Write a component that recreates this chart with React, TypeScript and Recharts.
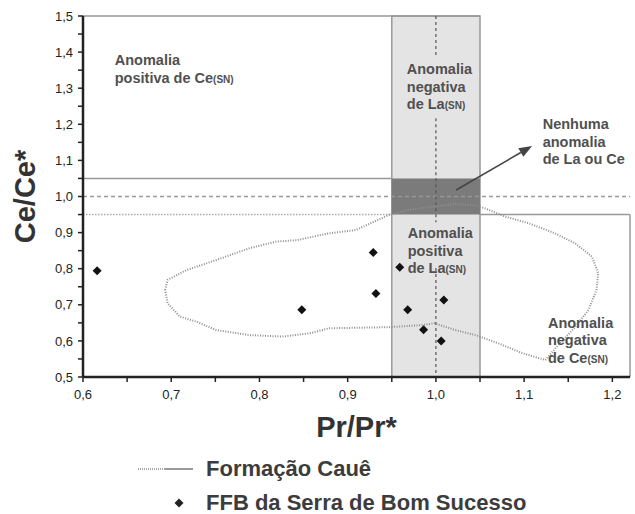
import React from 'react'
import {
  ScatterChart,
  Scatter,
  XAxis,
  YAxis,
  ReferenceArea,
  ReferenceLine,
  ReferenceDot,
  Legend,
} from 'recharts'

// axis ticks (minor every 0.05, labels only on tenths)
const xTicks = [0.6, 0.65, 0.7, 0.75, 0.8, 0.85, 0.9, 0.95, 1.0, 1.05, 1.1, 1.15, 1.2]
const yTicks = [
  0.5, 0.55, 0.6, 0.65, 0.7, 0.75, 0.8, 0.85, 0.9, 0.95, 1.0, 1.05, 1.1, 1.15, 1.2, 1.25, 1.3,
  1.35, 1.4, 1.45, 1.5,
]

// FFB da Serra de Bom Sucesso samples
const ffbX = [0.616, 0.848, 0.929, 0.959, 0.932, 0.968, 1.009, 0.986, 1.006]
const ffbY = [0.794, 0.686, 0.845, 0.804, 0.731, 0.686, 0.713, 0.631, 0.6]

// Formação Cauê field outline (closed)
const caueX = [
  0.693, 0.696, 0.717, 0.751, 0.789, 0.819, 0.842, 0.879, 0.909, 0.947, 0.97, 0.996, 1.022, 1.045,
  1.056, 1.079, 1.105, 1.135, 1.158, 1.177, 1.184, 1.182, 1.173, 1.158, 1.139, 1.124, 1.098, 1.071,
  1.045, 1.022, 0.998, 0.985, 0.947, 0.879, 0.857, 0.826, 0.789, 0.751, 0.729, 0.71, 0.696, 0.693,
]
const caueY = [
  0.741, 0.769, 0.796, 0.824, 0.857, 0.875, 0.879, 0.898, 0.907, 0.949, 0.963, 0.972, 0.979, 0.976,
  0.967, 0.944, 0.926, 0.898, 0.87, 0.833, 0.787, 0.741, 0.686, 0.639, 0.589, 0.547, 0.566, 0.593,
  0.616, 0.63, 0.649, 0.644, 0.638, 0.635, 0.621, 0.612, 0.616, 0.63, 0.653, 0.667, 0.704, 0.741,
]

// region annotations: left edge x, first line y
const annoX = [0.636, 0.967, 1.121, 0.968, 1.127]
const annoY = [1.378, 1.353, 1.201, 0.899, 0.65]
const annoLines = [
  ['Anomalia', 'positiva de Ce|(SN)'],
  ['Anomalia', 'negativa', 'de La|(SN)'],
  ['Nenhuma', 'anomalia', 'de La ou Ce'],
  ['Anomalia', 'positiva', 'de La|(SN)'],
  ['Anomalia', 'negativa', 'de Ce|(SN)'],
]

const legendLabels = ['Formação Cauê', 'FFB da Serra de Bom Sucesso']

const ffbData = ffbX.map((x, i) => ({ x, y: ffbY[i] }))
const caueData = caueX.map((x, i) => ({ x, y: caueY[i] }))

const FONT = '"Liberation Sans", Arial, sans-serif'
const isMajor = (v: number) => Math.round(v * 100) % 10 === 0
const fmt = (v: number) => v.toFixed(1).replace('.', ',')

const XTick = (props: any) => {
  const { x, y, payload } = props
  if (!isMajor(payload.value)) return <g />
  return (
    <text x={x} y={y} dy="0.71em" textAnchor="middle" fontSize={13} fill="#222" fontFamily={FONT}>
      {fmt(payload.value)}
    </text>
  )
}

const YTick = (props: any) => {
  const { x, y, payload } = props
  if (!isMajor(payload.value)) return <g />
  return (
    <text x={x} y={y} dy="0.355em" textAnchor="end" fontSize={13} fill="#222" fontFamily={FONT}>
      {fmt(payload.value)}
    </text>
  )
}

const Diamond = (props: any) => {
  const { cx, cy } = props
  return (
    <polygon
      points={`${cx},${cy - 4.5} ${cx + 4.5},${cy} ${cx},${cy + 4.5} ${cx - 4.5},${cy}`}
      fill="#111"
    />
  )
}

const Anno = ({ cx, cy, lines }: any) => (
  <text x={cx} y={cy} fontSize={14.5} fontWeight="bold" fill="#505050" fontFamily={FONT}>
    {lines.map((l: string, i: number) => {
      const [main, sub] = l.split('|')
      return (
        <tspan key={i} x={cx} y={cy + i * 17.5} dy="0.35em">
          {main}
          {sub && <tspan fontSize={10}>{sub}</tspan>}
        </tspan>
      )
    })}
  </text>
)

const Arrow = (props: any) => {
  const { x1, y1, x2, y2 } = props
  const a = Math.atan2(y2 - y1, x2 - x1)
  const len = 13
  const w = 5
  const bx = x2 - len * Math.cos(a)
  const by = y2 - len * Math.sin(a)
  const px = -Math.sin(a) * w
  const py = Math.cos(a) * w
  return (
    <g>
      <line x1={x1} y1={y1} x2={bx} y2={by} stroke="#444" strokeWidth={1.5} />
      <polygon points={`${x2},${y2} ${bx + px},${by + py} ${bx - px},${by - py}`} fill="#444" />
    </g>
  )
}

const LegendBox = () => (
  <div style={{ position: 'relative', width: 635, height: 64, fontFamily: FONT }}>
    <svg width={635} height={64} style={{ position: 'absolute', left: 0, top: 0 }}>
      <line x1={138} y1={17} x2={165} y2={17} stroke="#aaa" strokeWidth={2} strokeDasharray="1 1" />
      <line x1={165} y1={17} x2={193} y2={17} stroke="#999" strokeWidth={2} />
      <polygon points="179,46.5 183.5,51 179,55.5 174.5,51" fill="#222" />
    </svg>
    {legendLabels.map((t, i) => (
      <div
        key={t}
        style={{
          position: 'absolute',
          left: 206,
          top: 17 + i * 34 - 13,
          lineHeight: '26px',
          fontSize: 22,
          fontWeight: 'bold',
          color: '#3c3c3c',
          whiteSpace: 'nowrap',
        }}
      >
        {t}
      </div>
    ))}
  </div>
)

export default function App() {
  return (
    <div style={{ position: 'absolute', left: 0, top: 0, width: 635, height: 514, background: '#fff' }}>
      <ScatterChart width={635} height={514} margin={{ top: 16, right: 5, left: 0, bottom: 107 }}>
        <XAxis
          type="number"
          dataKey="x"
          domain={[0.6, 1.22]}
          ticks={xTicks}
          interval={0}
          height={30}
          tickSize={5}
          tickMargin={8}
          tick={<XTick />}
          axisLine={{ stroke: '#222', strokeWidth: 2.5 }}
          tickLine={{ stroke: '#222', strokeWidth: 1.5 }}
          label={{
            content: (p: any) => {
              const vb = p.viewBox
              return (
                <text
                  x={vb.x + vb.width / 2}
                  y={vb.y + 50}
                  textAnchor="middle"
                  dy="0.35em"
                  fontSize={29}
                  fontWeight="bold"
                  fill="#333"
                  fontFamily={FONT}
                >
                  Pr/Pr*
                </text>
              )
            },
          }}
        />
        <YAxis
          type="number"
          dataKey="y"
          domain={[0.5, 1.5]}
          ticks={yTicks}
          interval={0}
          width={83}
          tickSize={5}
          tickMargin={5}
          tick={<YTick />}
          axisLine={{ stroke: '#222', strokeWidth: 2.5 }}
          tickLine={{ stroke: '#222', strokeWidth: 1.5 }}
          label={{
            content: (p: any) => {
              const vb = p.viewBox
              const cx = 25
              const cy = vb.y + vb.height / 2
              return (
                <text
                  x={cx}
                  y={cy}
                  transform={`rotate(-90 ${cx} ${cy})`}
                  textAnchor="middle"
                  dy="0.35em"
                  fontSize={29}
                  fontWeight="bold"
                  fill="#333"
                  fontFamily={FONT}
                >
                  Ce/Ce*
                </text>
              )
            },
          }}
        />

        {/* La anomaly band and the no-anomaly box */}
        <ReferenceArea x1={0.95} x2={1.05} y1={0.5} y2={1.5} fill="#e4e4e4" fillOpacity={1} stroke="#999" strokeWidth={1.5} />
        <ReferenceArea x1={0.95} x2={1.05} y1={0.95} y2={1.05} fill="#7b7b7b" fillOpacity={1} stroke="none" />

        {/* frame pieces */}
        <ReferenceLine segment={[{ x: 0.6, y: 1.5 }, { x: 1.05, y: 1.5 }]} stroke="#999" strokeWidth={1.5} />
        <ReferenceLine segment={[{ x: 0.6, y: 1.05 }, { x: 0.95, y: 1.05 }]} stroke="#999" strokeWidth={1.5} />
        <ReferenceLine segment={[{ x: 1.05, y: 0.95 }, { x: 1.22, y: 0.95 }]} stroke="#999" strokeWidth={1.5} />
        <ReferenceLine segment={[{ x: 1.22, y: 0.5 }, { x: 1.22, y: 0.95 }]} stroke="#999" strokeWidth={1.5} />
        <ReferenceLine segment={[{ x: 0.6, y: 0.95 }, { x: 0.95, y: 0.95 }]} stroke="#aaa" strokeWidth={1.5} strokeDasharray="1.5 1.5" />
        <ReferenceLine segment={[{ x: 0.6, y: 1.0 }, { x: 1.22, y: 1.0 }]} stroke="#999" strokeWidth={1.5} strokeDasharray="4 3" />
        <ReferenceLine segment={[{ x: 1.0, y: 1.5 }, { x: 1.0, y: 1.392 }]} stroke="#555" strokeWidth={1.2} strokeDasharray="3 3" />
        <ReferenceLine segment={[{ x: 1.0, y: 1.217 }, { x: 1.0, y: 0.929 }]} stroke="#555" strokeWidth={1.2} strokeDasharray="3 3" />
        <ReferenceLine segment={[{ x: 1.0, y: 0.802 }, { x: 1.0, y: 0.5 }]} stroke="#555" strokeWidth={1.2} strokeDasharray="3 3" />

        {/* arrow to the no-anomaly box */}
        <ReferenceLine segment={[{ x: 1.023, y: 1.018 }, { x: 1.109, y: 1.14 }]} shape={<Arrow />} />

        <Scatter
          data={caueData}
          line={{ stroke: '#8f8f8f', strokeWidth: 2, strokeDasharray: '1 1.5' }}
          lineType="joint"
          shape={() => <g />}
          isAnimationActive={false}
        />
        <Scatter data={ffbData} shape={<Diamond />} isAnimationActive={false} />

        {annoLines.map((lines, i) => (
          <ReferenceDot
            key={i}
            x={annoX[i]}
            y={annoY[i]}
            r={0}
            shape={(p: any) => <Anno cx={p.cx} cy={p.cy} lines={lines} />}
          />
        ))}

        <Legend
          layout="vertical"
          verticalAlign="middle"
          align="center"
          wrapperStyle={{ left: 0, top: 452, width: 635 }}
          content={() => <LegendBox />}
        />
      </ScatterChart>
    </div>
  )
}
